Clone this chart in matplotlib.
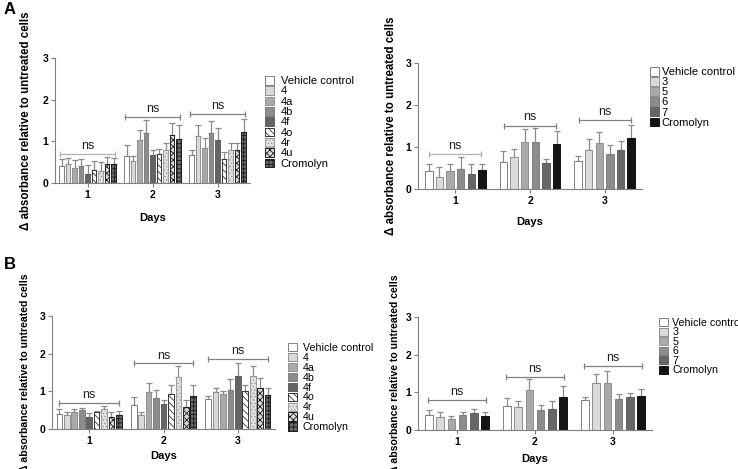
import matplotlib
matplotlib.use('Agg')
import matplotlib.pyplot as plt
import numpy as np

plt.rcParams['font.family'] = ['Liberation Sans', 'DejaVu Sans']
plt.rcParams['hatch.linewidth'] = 0.6

W, H = 738, 469
days = ['1', '2', '3']
yticks = [0, 1, 2, 3]

series9 = ['Vehicle control', '4', '4a', '4b', '4f', '4o', '4r', '4u', 'Cromolyn']
series6 = ['Vehicle control', '3', '5', '6', '7', 'Cromolyn']

# ---- Panel A, left (rows = series, columns = days 1..3)
aL_mean = [[0.41, 0.65, 0.68], [0.46, 0.53, 1.12], [0.36, 1.03, 0.84],
           [0.40, 1.21, 1.19], [0.22, 0.66, 1.04], [0.30, 0.70, 0.57],
           [0.28, 0.79, 0.79], [0.45, 1.14, 0.80], [0.45, 1.06, 1.22]]
aL_err = [[0.17, 0.25, 0.11], [0.14, 0.11, 0.28], [0.20, 0.25, 0.25],
          [0.17, 0.31, 0.29], [0.21, 0.14, 0.27], [0.22, 0.12, 0.17],
          [0.22, 0.18, 0.17], [0.17, 0.31, 0.15], [0.15, 0.32, 0.31]]
aL_ns = [0.70, 1.58, 1.65]

# ---- Panel A, right
aR_mean = [[0.42, 0.65, 0.67], [0.29, 0.76, 0.93], [0.43, 1.11, 1.10],
           [0.47, 1.11, 0.83], [0.35, 0.62, 0.94], [0.45, 1.06, 1.21]]
aR_err = [[0.17, 0.25, 0.11], [0.23, 0.20, 0.26], [0.16, 0.32, 0.26],
          [0.29, 0.34, 0.22], [0.24, 0.09, 0.21], [0.14, 0.32, 0.32]]
aR_ns = [0.83, 1.51, 1.65]

# ---- Panel B, left
bL_mean = [[0.40, 0.64, 0.80], [0.38, 0.37, 0.97], [0.45, 0.98, 0.93],
           [0.50, 0.82, 1.03], [0.33, 0.66, 1.40], [0.45, 0.93, 1.00],
           [0.52, 1.37, 1.42], [0.33, 0.59, 1.10], [0.37, 0.88, 0.89]]
bL_err = [[0.12, 0.21, 0.08], [0.07, 0.08, 0.11], [0.08, 0.25, 0.09],
          [0.07, 0.21, 0.29], [0.09, 0.10, 0.35], [0.04, 0.23, 0.16],
          [0.08, 0.31, 0.24], [0.12, 0.18, 0.26], [0.10, 0.28, 0.19]]
bL_ns = [0.69, 1.74, 1.85]

# ---- Panel B, right
bR_mean = [[0.40, 0.64, 0.80], [0.34, 0.61, 1.24], [0.29, 1.06, 1.25],
           [0.41, 0.54, 0.82], [0.46, 0.55, 0.88], [0.37, 0.88, 0.89]]
bR_err = [[0.13, 0.21, 0.08], [0.13, 0.16, 0.26], [0.07, 0.29, 0.31],
          [0.08, 0.12, 0.13], [0.11, 0.22, 0.10], [0.11, 0.28, 0.19]]
bR_ns = [0.79, 1.42, 1.71]

# styles
style9 = [dict(fc='white', hatch=None, ec='#808080'),
          dict(fc='#dadada', hatch=None, ec='#909090'),
          dict(fc='#a9a9a9', hatch=None, ec='#909090'),
          dict(fc='#8c8c8c', hatch=None, ec='#808080'),
          dict(fc='#646464', hatch=None, ec='#606060'),
          dict(fc='white', hatch='\\\\\\\\\\', ec='#333333'),
          dict(fc='#e2e2e2', hatch='.....', ec='#9a9a9a'),
          dict(fc='#d8d8d8', hatch='xxxxx', ec='#1e1e1e'),
          dict(fc='#6a6a6a', hatch='++++', ec='#1a1a1a')]
style6 = [dict(fc='white', hatch=None, ec='#808080'),
          dict(fc='#dadada', hatch=None, ec='#909090'),
          dict(fc='#a9a9a9', hatch=None, ec='#909090'),
          dict(fc='#8c8c8c', hatch=None, ec='#808080'),
          dict(fc='#666666', hatch=None, ec='#606060'),
          dict(fc='#141414', hatch=None, ec='#141414')]

fig = plt.figure(figsize=(W / 100, H / 100), dpi=100)


def panel(rect_px, names, means, errs, ns, styles, slot, bw, half,
          ylab_x, xlab_y, leg_xy, fs_leg, ns_colors, fs_ylab, lsp, htp):
    l, t, r, b = rect_px
    ax = fig.add_axes([l / W, 1 - b / H, (r - l) / W, (b - t) / H])
    n = len(names)
    x = np.arange(1, 4)
    offs = (np.arange(n) - (n - 1) / 2) * slot
    for i in range(n):
        st = styles[i]
        m = np.array(means[i])
        e = np.array(errs[i])
        ax.bar(x + offs[i], m, bw, color=st['fc'], edgecolor=st['ec'],
               hatch=st['hatch'], linewidth=0.7, label=names[i], zorder=2)
        ax.errorbar(x + offs[i], m, yerr=[np.zeros(3), e], fmt='none',
                    ecolor='#8a8a8a', elinewidth=0.9, capsize=2,
                    capthick=0.9, zorder=1)
    for k in range(3):
        ax.plot([x[k] - half, x[k] + half], [ns[k], ns[k]], color=ns_colors[k],
                lw=0.9, marker='|', markersize=4, markeredgewidth=0.9)
        ax.text(x[k], ns[k] + 0.05, 'ns', ha='center', va='bottom',
                fontsize=9, color='#222222')
    ax.set_xlim(0.5, 3.5)
    ax.set_ylim(0, 3)
    ax.set_yticks(yticks)
    ax.set_xticks(x)
    ax.set_xticklabels(days)
    for s in ['top', 'right']:
        ax.spines[s].set_visible(False)
    for s in ['left', 'bottom']:
        ax.spines[s].set_color('#808080')
        ax.spines[s].set_linewidth(0.8)
    ax.tick_params(colors='#808080', labelcolor='black', length=3, width=0.8,
                   labelsize=7.5, pad=2)
    for lab in ax.get_xticklabels() + ax.get_yticklabels():
        lab.set_fontweight('bold')
    ax.set_ylabel('Δ absorbance relative to untreated cells', fontsize=fs_ylab,
                  fontweight='bold')
    ax.yaxis.set_label_coords(ylab_x, 0.5)
    ax.set_xlabel('Days', fontsize=8, fontweight='bold')
    ax.xaxis.set_label_coords(0.5, xlab_y)
    ax.legend(loc='upper left', bbox_to_anchor=(leg_xy[0] / W, 1 - leg_xy[1] / H),
              bbox_transform=fig.transFigure, frameon=False,
              fontsize=fs_leg, borderpad=0, borderaxespad=0,
              handlelength=0.8, handleheight=0.8, handletextpad=htp,
              labelspacing=lsp)
    return ax


panel((55, 58, 250, 183), series9, aL_mean, aL_err, aL_ns, style9,
      0.1, 0.076, 0.42, -0.118, -0.24, (265, 76), 8,
      ['#b0b0b0', '#808080', '#808080'], 8.3, 0.02, 0.6)
panel((418, 63, 642, 189), series6, aR_mean, aR_err, aR_ns, style6,
      0.142, 0.1, 0.35, -0.094, -0.22, (650, 67), 8,
      ['#b0b0b0', '#808080', '#808080'], 8.3, 0.0, 0.25)
panel((52, 316, 275, 429), series9, bL_mean, bL_err, bL_ns, style9,
      0.1, 0.076, 0.40, -0.099, -0.195, (288, 343), 7.7,
      ['#808080', '#808080', '#808080'], 7.6, -0.01, 0.6)
panel((418, 317, 652, 430), series6, bR_mean, bR_err, bR_ns, style6,
      0.142, 0.1, 0.37, -0.077, -0.21, (659, 318), 7.7,
      ['#808080', '#808080', '#808080'], 7.6, -0.05, 0.45)

fig.text(4 / W, 1 - 2 / H, 'A', fontsize=12, fontweight='bold', va='top', ha='left')
fig.text(4 / W, 1 - 257 / H, 'B', fontsize=12, fontweight='bold', va='top', ha='left')

fig.savefig('out.png', dpi=100)
